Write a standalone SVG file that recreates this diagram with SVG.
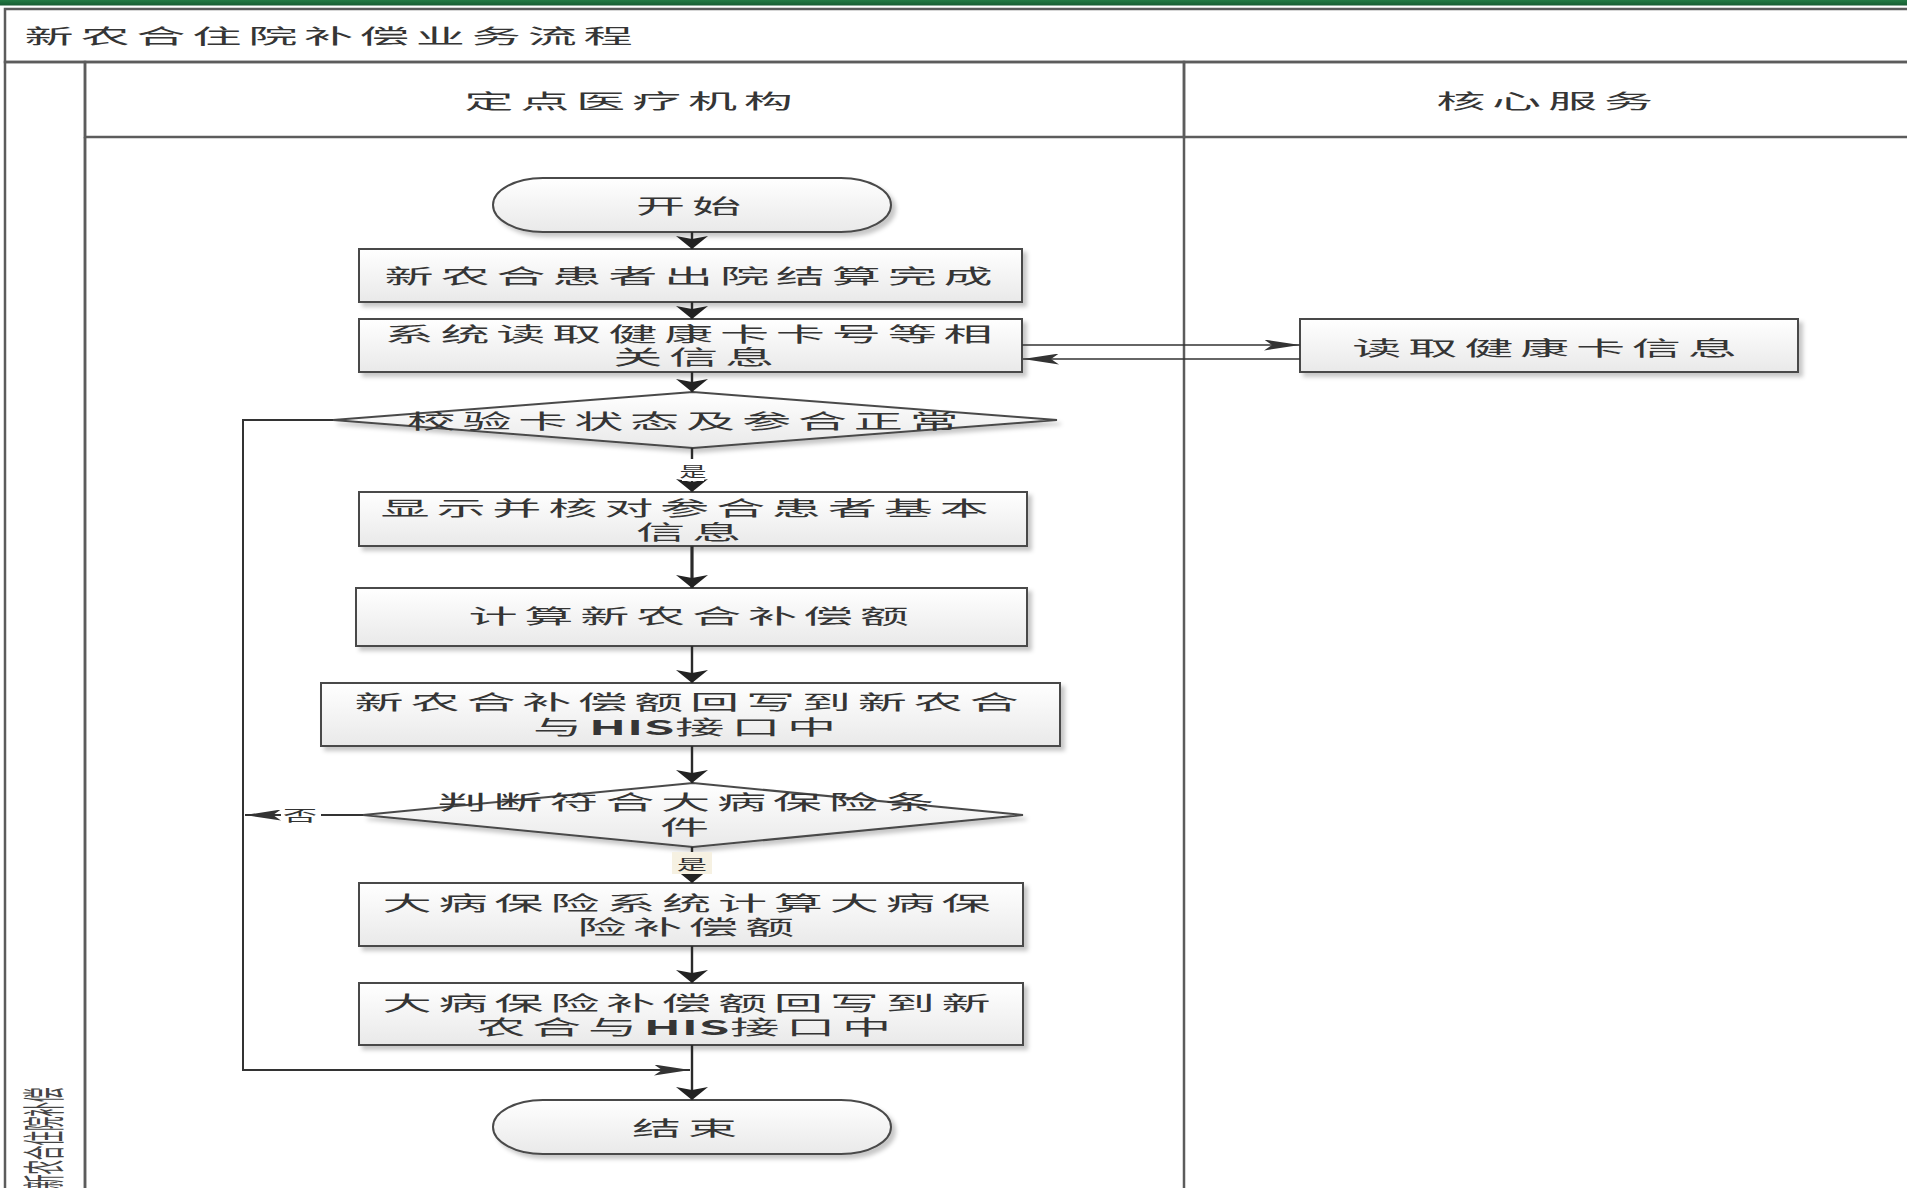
<svg xmlns="http://www.w3.org/2000/svg" width="1907" height="1188" viewBox="0 0 1907 1188">
  <defs>
    <linearGradient id="gBar" x1="0" y1="0" x2="0" y2="1">
      <stop offset="0" stop-color="#237a44"/>
      <stop offset="1" stop-color="#175c32"/>
    </linearGradient>
    <linearGradient id="gHead" x1="0" y1="0" x2="0" y2="1">
      <stop offset="0" stop-color="#ffffff"/>
      <stop offset="1" stop-color="#ededed"/>
    </linearGradient>
    <linearGradient id="gStrip" x1="0" y1="0" x2="1" y2="0">
      <stop offset="0" stop-color="#ececec"/>
      <stop offset="0.5" stop-color="#f9f9f9"/>
      <stop offset="1" stop-color="#ececec"/>
    </linearGradient>
    <linearGradient id="gNode" x1="0" y1="0" x2="0" y2="1">
      <stop offset="0" stop-color="#ffffff"/>
      <stop offset="1" stop-color="#e9e9e9"/>
    </linearGradient>
    <filter id="shadow" x="-5%" y="-20%" width="115%" height="150%">
      <feDropShadow dx="4" dy="4" stdDeviation="2" flood-color="#000" flood-opacity="0.22"/>
    </filter>
    <!-- arrowheads: vertical flow heads are wide and short, side heads long and slim -->
    <marker id="arrowV" markerUnits="userSpaceOnUse" viewBox="0 0 13 32" refX="13" refY="16" markerWidth="13" markerHeight="32" orient="auto">
      <path d="M0,0 L13,16 L0,32 L3,16 Z" fill="#222"/>
    </marker>
    <marker id="arrowH" markerUnits="userSpaceOnUse" viewBox="0 0 36 11" refX="36" refY="5.5" markerWidth="36" markerHeight="11" orient="auto">
      <path d="M0,0 L36,5.5 L0,11 L8,5.5 Z" fill="#333"/>
    </marker>
  </defs>
  <style>
    .frame { fill: none; stroke: #5c5c5c; stroke-width: 2.5; }
    .node { fill: url(#gNode); stroke: #4a4a4a; stroke-width: 2; filter: url(#shadow); }
    .t { font-family: "Noto Sans CJK SC", "Noto Sans", sans-serif; font-size: 20.5px; letter-spacing: 2.8px; fill: #353535; text-anchor: middle; dominant-baseline: central; }
    .lbl { font-family: "Noto Sans CJK SC", "Noto Sans", sans-serif; font-size: 15px; fill: #333; text-anchor: middle; dominant-baseline: central; }
    .flow { fill: none; stroke: #2a2a2a; stroke-width: 2.4; }
    .side { fill: none; stroke: #333; stroke-width: 1.6; }
    .latin { font-weight: bold; letter-spacing: 0.3px; }
  </style>

  <rect x="0" y="0" width="1907" height="1188" fill="#ffffff"/>

  <!-- pool frame with title row and lane strip -->
  <g id="pool">
    <rect x="0" y="0" width="1907" height="5.5" fill="url(#gBar)"/>
    <rect x="5" y="9" width="1910" height="53" fill="url(#gHead)" class="frame"/>
    <text class="t" style="letter-spacing:2.8px" transform="translate(332 35) scale(2.4 1)">新农合住院补偿业务流程</text>
    <rect x="5" y="62" width="80" height="1140" fill="url(#gStrip)" class="frame"/>
    <text class="lbl" style="font-size:14.5px;text-anchor:start;fill:#444" transform="translate(41 1189) scale(3 1) rotate(-90)">新农合住院补偿</text>
  </g>

  <g id="lane-hospital">
    <rect x="85" y="62" width="1099" height="75" fill="url(#gHead)" class="frame"/>
    <line x1="85" y1="137" x2="85" y2="1200" class="frame"/>
    <text class="t" transform="translate(632 100) scale(2.4 1)">定点医疗机构</text>
  </g>

  <g id="lane-core">
    <rect x="1184" y="62" width="730" height="75" fill="url(#gHead)" class="frame"/>
    <line x1="1184" y1="137" x2="1184" y2="1200" class="frame"/>
    <text class="t" transform="translate(1548 100) scale(2.4 1)">核心服务</text>
  </g>

  <!-- flow nodes -->
  <g id="n-start">
    <rect x="493" y="178" width="398" height="54" rx="50" ry="27" class="node"/>
    <text class="t" transform="translate(692 205) scale(2.4 1)">开始</text>
  </g>
  <g id="n-settle">
    <rect x="359" y="249" width="663" height="53" class="node"/>
    <text class="t" transform="translate(692 275) scale(2.4 1)">新农合患者出院结算完成</text>
  </g>
  <g id="n-readcard">
    <rect x="359" y="319" width="663" height="53" class="node"/>
    <text class="t" transform="translate(692 333) scale(2.4 1)">系统读取健康卡卡号等相</text>
    <text class="t" transform="translate(697 356) scale(2.4 1)">关信息</text>
  </g>
  <g id="n-check">
    <polygon points="333,420 693,392 1057,420 693,448" class="node"/>
    <text class="t" transform="translate(686 420) scale(2.4 1)">校验卡状态及参合正常</text>
  </g>
  <g id="n-verify">
    <rect x="359" y="492" width="668" height="54" class="node"/>
    <text class="t" transform="translate(688 507) scale(2.4 1)">显示并核对参合患者基本</text>
    <text class="t" transform="translate(692 531) scale(2.4 1)">信息</text>
  </g>
  <g id="n-calc">
    <rect x="356" y="588" width="671" height="58" class="node"/>
    <text class="t" transform="translate(692 615) scale(2.4 1)">计算新农合补偿额</text>
  </g>
  <g id="n-writeback">
    <rect x="321" y="683" width="739" height="63" class="node"/>
    <text class="t" transform="translate(690 701) scale(2.4 1)">新农合补偿额回写到新农合</text>
    <text class="t" transform="translate(688 726) scale(2.4 1)">与<tspan class="latin">HIS</tspan>接口中</text>
  </g>
  <g id="n-judge">
    <polygon points="363,815 693,783 1023,815 693,847" class="node"/>
    <text class="t" transform="translate(689 801) scale(2.4 1)">判断符合大病保险条</text>
    <text class="t" transform="translate(688 826) scale(2.4 1)">件</text>
  </g>
  <g id="n-major-calc">
    <rect x="359" y="883" width="664" height="63" class="node"/>
    <text class="t" transform="translate(690 902) scale(2.4 1)">大病保险系统计算大病保</text>
    <text class="t" transform="translate(689 926) scale(2.4 1)">险补偿额</text>
  </g>
  <g id="n-major-writeback">
    <rect x="359" y="983" width="664" height="62" class="node"/>
    <text class="t" transform="translate(690 1002) scale(2.4 1)">大病保险补偿额回写到新</text>
    <text class="t" transform="translate(687 1026) scale(2.4 1)">农合与<tspan class="latin">HIS</tspan>接口中</text>
  </g>
  <g id="n-end">
    <rect x="493" y="1100" width="398" height="54" rx="50" ry="27" class="node"/>
    <text class="t" transform="translate(688 1127) scale(2.4 1)">结束</text>
  </g>
  <g id="n-cardinfo">
    <rect x="1300" y="319" width="498" height="53" class="node"/>
    <text class="t" transform="translate(1548 347) scale(2.4 1)">读取健康卡信息</text>
  </g>

  <!-- connectors -->
  <g id="connectors">
    <path d="M692,232 V249" class="flow" marker-end="url(#arrowV)"/>
    <path d="M692,302 V319" class="flow" marker-end="url(#arrowV)"/>
    <path d="M692,372 V392" class="flow" marker-end="url(#arrowV)"/>
    <path d="M692,448 V492" class="flow" marker-end="url(#arrowV)"/>
    <path d="M692,546 V588" class="flow" style="stroke-width:3.2" marker-end="url(#arrowV)"/>
    <path d="M692,646 V683" class="flow" marker-end="url(#arrowV)"/>
    <path d="M692,746 V783" class="flow" marker-end="url(#arrowV)"/>
    <path d="M692,847 V883" class="flow" marker-end="url(#arrowV)"/>
    <path d="M692,946 V983" class="flow" marker-end="url(#arrowV)"/>
    <path d="M692,1045 V1100" class="flow" marker-end="url(#arrowV)"/>
    <!-- card check failed: loop round to the end -->
    <path d="M333,420 H243 V1070 H690" class="side" style="stroke-width:2" marker-end="url(#arrowH)"/>
    <!-- major illness condition not met -->
    <path d="M363,815 H245" class="side" style="stroke-width:2" marker-end="url(#arrowH)"/>
    <!-- card read request and reply -->
    <path d="M1022,345 H1300" class="side" marker-end="url(#arrowH)"/>
    <path d="M1300,359 H1023" class="side" marker-end="url(#arrowH)"/>

    <rect x="682" y="459" width="22" height="22" fill="#ffffff"/>
    <text class="lbl" transform="translate(693 470) scale(1.8 1)">是</text>
    <rect x="281" y="805" width="40" height="21" fill="#ffffff"/>
    <text class="lbl" transform="translate(300 815) scale(2.3 1)">否</text>
    <rect x="672" y="852" width="40" height="22" fill="#f6f1e2"/>
    <text class="lbl" transform="translate(692 863) scale(2 1)">是</text>
  </g>
</svg>
